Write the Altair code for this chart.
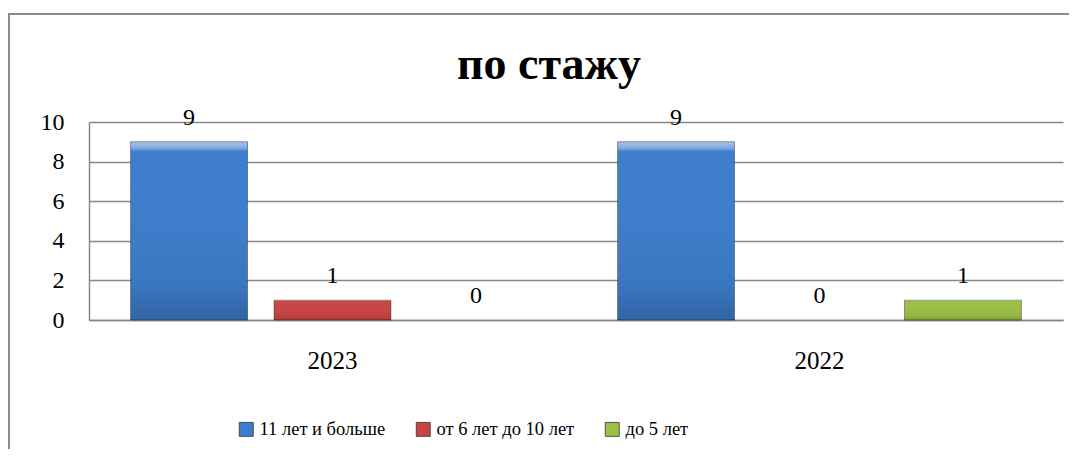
import altair as alt
import pandas as pd

years = ["2023", "2022"]
series = ["11 лет и больше", "от 6 лет до 10 лет", "до 5 лет"]
values_2023 = [9, 1, 0]
values_2022 = [9, 0, 1]
y_ticks = [0, 2, 4, 6, 8, 10]
colors = ["#3D7DCC", "#C94543", "#9CBF45"]
title_text = "по стажу"

rows = []
for y, vals in zip(years, [values_2023, values_2022]):
    for s, v in zip(series, vals):
        rows.append({"year": y, "series": s, "value": v})
df = pd.DataFrame(rows)

FONT = "Liberation Serif"

x_axis = alt.Axis(labelPadding=28, ticks=False, labelAngle=0, title=None,
                  labelFontSize=25, labelFont=FONT)
y_axis = alt.Axis(values=y_ticks, ticks=False, labelPadding=25, labelOverlap=False,
                  labelFlush=False, title=None, grid=True, labelFontSize=24,
                  labelFont=FONT)
x_enc = alt.X("year:N", sort=years, title=None,
              scale=alt.Scale(paddingInner=0, paddingOuter=0), axis=x_axis)
xo_enc = alt.XOffset("series:N", sort=series,
                     scale=alt.Scale(paddingInner=0.185, paddingOuter=0.29))
y_enc = alt.Y("value:Q", title=None, scale=alt.Scale(domain=[0, 10], nice=False),
              axis=y_axis)

bars = alt.Chart(df).mark_bar(strokeWidth=0).encode(
    x=x_enc, xOffset=xo_enc, y=y_enc,
    color=alt.Color("series:N", sort=series, title=None,
                    scale=alt.Scale(domain=series, range=colors),
                    legend=alt.Legend(orient="none", direction="horizontal",
                                      legendX=148, legendY=298,
                                      symbolType="square", symbolSize=196,
                                      symbolStrokeWidth=0.8,
                                      symbolStrokeColor="#333333",
                                      labelFont=FONT, labelFontSize=18.5,
                                      labelOffset=4, columnPadding=28, labelLimit=400))
)

shade = alt.Gradient(
    gradient="linear", x1=0, x2=0, y1=0, y2=1,
    stops=[
        alt.GradientStop(offset=0.0, color="rgba(255,255,255,0.55)"),
        alt.GradientStop(offset=0.035, color="rgba(255,255,255,0.35)"),
        alt.GradientStop(offset=0.055, color="rgba(255,255,255,0.0)"),
        alt.GradientStop(offset=0.8, color="rgba(0,0,0,0.05)"),
        alt.GradientStop(offset=1.0, color="rgba(0,0,0,0.2)"),
    ],
)

gloss = alt.Chart(df).transform_filter("datum.value > 0").mark_bar(
    fill=shade, stroke="#000000", strokeOpacity=0.35, strokeWidth=1
).encode(x=x_enc, xOffset=xo_enc, y=y_enc)

labels = alt.Chart(df).mark_text(font=FONT, fontSize=24, color="black",
                                 baseline="alphabetic", dy=-17).encode(
    x=x_enc, xOffset=xo_enc, y=y_enc, text="value:Q"
)

one = pd.DataFrame({"t": [title_text]})

frame = alt.Chart(one).mark_rect(
    fillOpacity=0, stroke="#8c8c8c", strokeWidth=2).encode(
    x=alt.value(-80), x2=alt.value(1100), y=alt.value(-108), y2=alt.value(400)
)

title = alt.Chart(one).mark_text(font=FONT, fontSize=46, fontWeight="bold",
                                 color="black", baseline="alphabetic", align="center").encode(
    x=alt.value(460), y=alt.value(-43), text="t:N"
)

chart = alt.layer(bars, gloss, labels, frame, title).properties(
    width=974, height=198,
    background="white",
    autosize=alt.AutoSizeParams(type="none"),
    padding={"left": 81, "top": 114, "right": 6, "bottom": 129},
).configure_view(stroke=None).configure_axis(
    labelFont=FONT, labelColor="black",
    domainColor="#888888", domainWidth=1.5,
    gridColor="#888888", gridWidth=1.5,
).configure_legend(
    labelFont=FONT, labelFontSize=18.5, labelColor="black",
).configure_text(font=FONT)

chart.save("out.html", embed_options={"renderer": "svg", "actions": False})
